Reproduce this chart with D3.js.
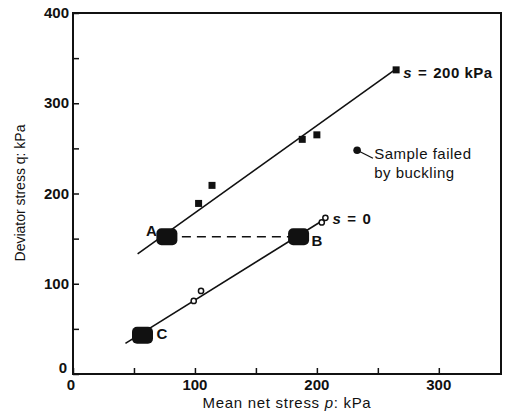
<!DOCTYPE html>
<html>
<head>
<meta charset="utf-8">
<script src="https://cdn.jsdelivr.net/npm/d3@7"></script>
<style>
  body { margin: 0; background: #fff; }
  text { font-family: "Liberation Sans", Arial, sans-serif; fill: #111; }
</style>
</head>
<body>
<div id="chart"></div>
<script>
// test data, s = 200 kPa (filled squares) and s = 0 (open circles)
const s200_p = [103, 114, 188, 200, 265];
const s200_q = [189, 209, 260, 265, 337];
const s0_p = [99, 105, 204, 207];
const s0_q = [81, 92, 168, 173];

// fitted lines (end points)
const s200_line = [[53, 133], [265, 338]];
const s0_line = [[43, 34], [207, 172]];

// stress states A, B, C
const states = ["A", "B", "C"];
const state_p = [77, 185, 57];
const state_q = [152, 152, 43];

// failed sample
const buckled = [233, 248];

const xTicks = [0, 100, 200, 300];
const xMinor = [50, 150, 250];
const yTicks = [0, 100, 200, 300, 400];
const yMinor = [50, 150, 250, 350];

const W = 505, H = 415;
const margin = { top: 13, right: 4, bottom: 41, left: 73 };
const width = W - margin.left - margin.right;
const height = H - margin.top - margin.bottom;

const svg = d3.select("#chart").append("svg")
    .attr("width", W)
    .attr("height", H);

const g = svg.append("g")
    .attr("transform", `translate(${margin.left}, ${margin.top})`);

const x = d3.scaleLinear().domain([0, 351]).range([0, width]);
const y = d3.scaleLinear().domain([0, 400]).range([height, 0]);

// frame
g.append("rect")
    .attr("width", width)
    .attr("height", height)
    .attr("fill", "none")
    .attr("stroke", "#111")
    .attr("stroke-width", 2);

// ticks point inward
const xAxis = g.append("g")
    .attr("transform", `translate(0, ${height})`)
    .call(d3.axisBottom(x).tickValues(xTicks.concat(xMinor)).tickSize(-6).tickFormat(""));
const yAxis = g.append("g")
    .call(d3.axisLeft(y).tickValues(yTicks.concat(yMinor)).tickSize(-6).tickFormat(""));
[xAxis, yAxis].forEach(a => {
    a.select(".domain").remove();
    a.selectAll("line").attr("stroke", "#111").attr("stroke-width", 1.5);
});

// tick labels
g.selectAll(".xl")
    .data(xTicks)
    .enter().append("text")
    .attr("x", d => x(d) + (d === 0 ? -2 : 0))
    .attr("y", height + 16)
    .attr("text-anchor", "middle")
    .style("font-size", "15px")
    .style("font-weight", "bold")
    .text(d => d);

g.selectAll(".yl")
    .data(yTicks)
    .enter().append("text")
    .attr("x", d => d === 0 ? -6 : -4)
    .attr("y", d => y(d) + (d === 0 ? -1 : 5))
    .attr("text-anchor", "end")
    .style("font-size", "15px")
    .style("font-weight", "bold")
    .text(d => d);

// axis titles
const xt = svg.append("text")
    .attr("x", 287)
    .attr("y", 408)
    .attr("text-anchor", "middle")
    .style("font-size", "15px")
    .style("letter-spacing", "0.7px");
xt.append("tspan").text("Mean net stress ");
xt.append("tspan").style("font-style", "italic").text("p");
xt.append("tspan").text(": kPa");

svg.append("text")
    .attr("transform", "translate(25, 193) rotate(-90)")
    .attr("text-anchor", "middle")
    .style("font-size", "14px")
    .text("Deviator stress q: kPa");

// lines
const line = d3.line().x(d => x(d[0])).y(d => y(d[1]));
[s200_line, s0_line].forEach(l => {
    g.append("path")
        .attr("d", line(l))
        .attr("fill", "none")
        .attr("stroke", "#111")
        .attr("stroke-width", 1.6);
});

// dashed A-B path
g.append("line")
    .attr("x1", x(state_p[0]))
    .attr("x2", x(state_p[1]))
    .attr("y1", y(state_q[0]))
    .attr("y2", y(state_q[1]))
    .attr("stroke", "#111")
    .attr("stroke-width", 1.4)
    .attr("stroke-dasharray", "9,6");

// s = 200 squares
g.selectAll(".sq")
    .data(s200_p)
    .enter().append("rect")
    .attr("x", d => x(d) - 3.5)
    .attr("y", (d, i) => y(s200_q[i]) - 3.5)
    .attr("width", 7)
    .attr("height", 7)
    .attr("fill", "#111");

// s = 0 circles
g.selectAll(".ci")
    .data(s0_p)
    .enter().append("circle")
    .attr("cx", d => x(d))
    .attr("cy", (d, i) => y(s0_q[i]))
    .attr("r", 2.6)
    .attr("fill", "#fff")
    .attr("stroke", "#111")
    .attr("stroke-width", 1.5);

// buckled sample
g.append("circle")
    .attr("cx", x(buckled[0]))
    .attr("cy", y(buckled[1]))
    .attr("r", 3.8)
    .attr("fill", "#111");
g.append("line")
    .attr("x1", x(buckled[0]))
    .attr("y1", y(buckled[1]))
    .attr("x2", x(buckled[0] + 13))
    .attr("y2", y(buckled[1] - 9))
    .attr("stroke", "#111")
    .attr("stroke-width", 1.2);

// big state markers
g.selectAll(".st")
    .data(states)
    .enter().append("rect")
    .attr("x", (d, i) => x(state_p[i]) - 10.5)
    .attr("y", (d, i) => y(state_q[i]) - 8.5)
    .attr("width", 21)
    .attr("height", 17)
    .attr("rx", 5)
    .attr("fill", "#111");

const labelOffset = { A: [-21, -1], B: [13, 9], C: [14, 4] };
g.selectAll(".stl")
    .data(states)
    .enter().append("text")
    .attr("x", (d, i) => x(state_p[i]) + labelOffset[d][0])
    .attr("y", (d, i) => y(state_q[i]) + labelOffset[d][1])
    .style("font-size", "15px")
    .style("font-weight", "bold")
    .text(d => d);

// annotations
function sLabel(px, py, rest) {
    const t = g.append("text")
        .attr("x", px)
        .attr("y", py)
        .style("font-size", "15px")
        .style("font-weight", "bold")
        .style("letter-spacing", "0.5px");
    t.append("tspan").style("font-style", "italic").text("s");
    t.append("tspan").attr("dx", 6).text("=");
    t.append("tspan").attr("dx", 6).text(rest);
}
sLabel(x(265) + 7, y(337) + 8, "200 kPa");
sLabel(x(207) + 7, y(173) + 6, "0");

g.append("text")
    .attr("x", x(buckled[0] + 14))
    .attr("y", y(buckled[1] - 10))
    .style("font-size", "15px")
    .style("letter-spacing", "0.5px")
    .text("Sample failed");
g.append("text")
    .attr("x", x(buckled[0] + 14))
    .attr("y", y(buckled[1] - 10) + 19)
    .style("font-size", "15px")
    .style("letter-spacing", "0.5px")
    .text("by buckling");
</script>
</body>
</html>
